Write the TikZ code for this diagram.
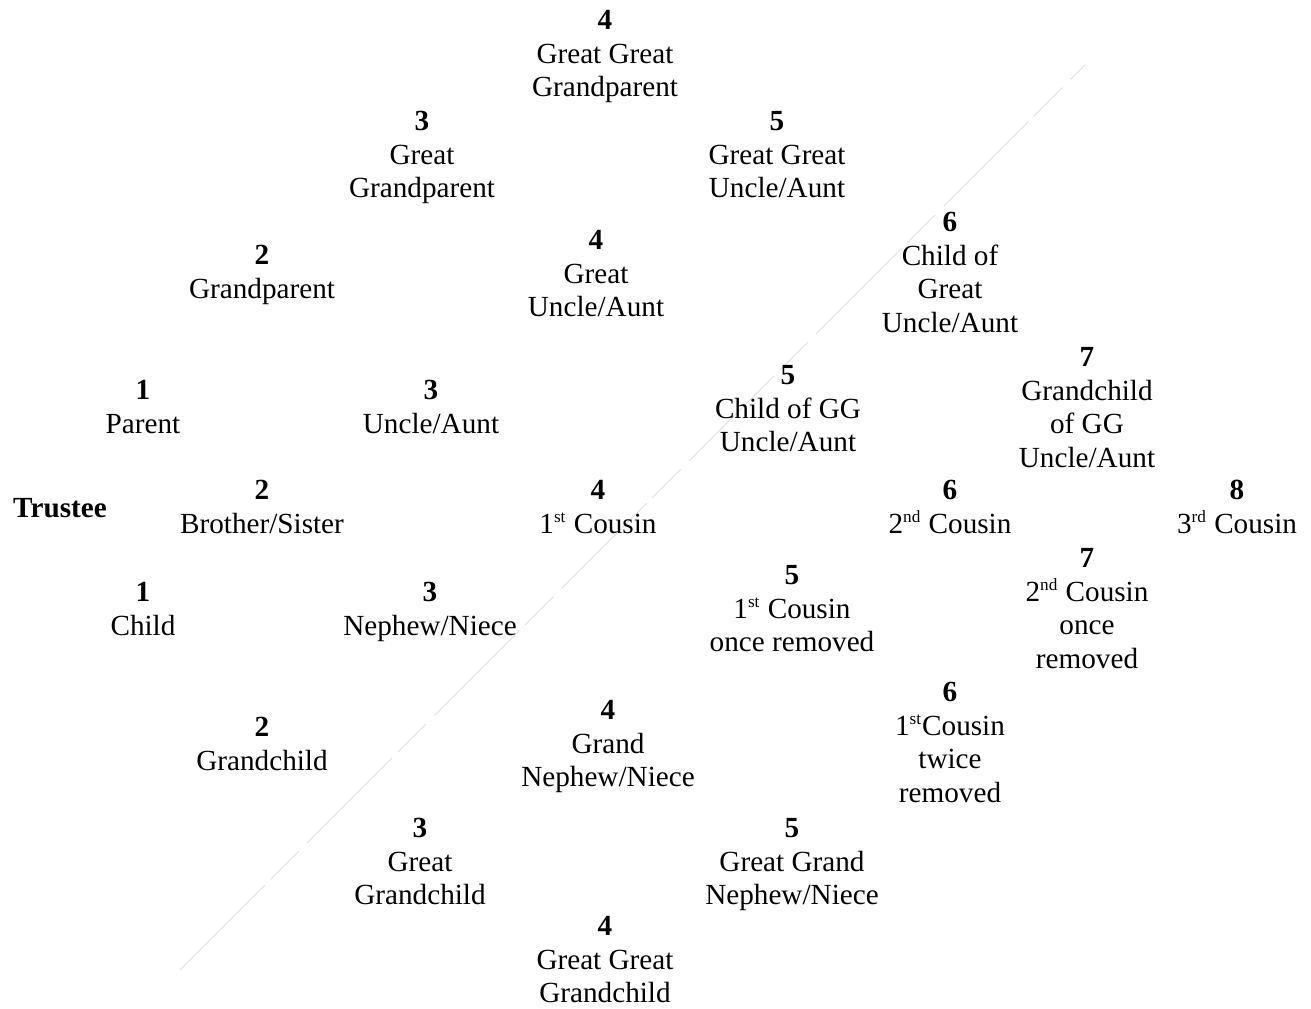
\documentclass[tikz,border=0pt]{standalone}
\usepackage{fontspec}
\setmainfont{Liberation Serif}
\usepackage{tikz}
\usetikzlibrary{positioning}
\newcommand{\ord}[1]{\textsuperscript{\fontsize{8.6}{8.6}\selectfont #1}}

\begin{document}
\begin{tikzpicture}[
  x=0.5pt, y=-0.5pt,
  rel/.style={anchor=north, align=center, inner sep=0pt, font=\fontsize{14.6}{16.8}\selectfont},
  diag/.style={gray!25, line width=0.5pt, dash pattern=on 60pt off 4pt on 20pt off 6pt},
]
  \useasboundingbox (0,0) rectangle (1311,1008);
  % faint dividing line
  \coordinate (lo) at (180,970);
  \coordinate (hi) at (1085,65);
  \draw[diag] (lo) -- (hi);

  \node[rel, font=\fontsize{14.6}{16.8}\selectfont\bfseries, anchor=center] (trustee) at (60,508) {Trustee};

  % ascendants
  \node[rel] (gggp) at (605,10) {\textbf{4}\\Great Great\\Grandparent};
  \node[rel] (ggp) at (422,111) {\textbf{3}\\Great\\Grandparent};
  \node[rel] (gp) at (262,245) {\textbf{2}\\Grandparent};
  \node[rel] (par) at (143,380) {\textbf{1}\\Parent};

  % uncles, aunts and their lines
  \node[rel] (ggua) at (777,111) {\textbf{5}\\Great Great\\Uncle/Aunt};
  \node[rel] (gua) at (596,230) {\textbf{4}\\Great\\Uncle/Aunt};
  \node[rel] (cgua) at (950,212) {\textbf{6}\\Child of\\Great\\Uncle/Aunt};
  \node[rel] (ua) at (431,380) {\textbf{3}\\Uncle/Aunt};
  \node[rel] (cggua) at (788,365) {\textbf{5}\\Child of GG\\Uncle/Aunt};
  \node[rel] (gcggua) at (1087,347) {\textbf{7}\\Grandchild\\of GG\\Uncle/Aunt};

  % same generation
  \node[rel] (sib) at (262,480) {\textbf{2}\\Brother/Sister};
  \node[rel] (cous1) at (598,480) {\textbf{4}\\1\ord{st} Cousin};
  \node[rel] (cous2) at (950,480) {\textbf{6}\\2\ord{nd} Cousin};
  \node[rel] (cous3) at (1237,480) {\textbf{8}\\3\ord{rd} Cousin};

  % descendants
  \node[rel] (ch) at (143,582) {\textbf{1}\\Child};
  \node[rel] (nn) at (430,582) {\textbf{3}\\Nephew/Niece};
  \node[rel] (cous1r1) at (792,565) {\textbf{5}\\1\ord{st} Cousin\\once removed};
  \node[rel] (cous2r1) at (1087,548) {\textbf{7}\\2\ord{nd} Cousin\\once\\removed};
  \node[rel] (cous1r2) at (950,682) {\textbf{6}\\1\ord{st}Cousin\\twice\\removed};
  \node[rel] (gc) at (262,717) {\textbf{2}\\Grandchild};
  \node[rel] (gnn) at (608,700) {\textbf{4}\\Grand\\Nephew/Niece};
  \node[rel] (ggc) at (420,818) {\textbf{3}\\Great\\Grandchild};
  \node[rel] (ggnn) at (792,818) {\textbf{5}\\Great Grand\\Nephew/Niece};
  \node[rel] (gggc) at (605,916) {\textbf{4}\\Great Great\\Grandchild};
\end{tikzpicture}
\end{document}
